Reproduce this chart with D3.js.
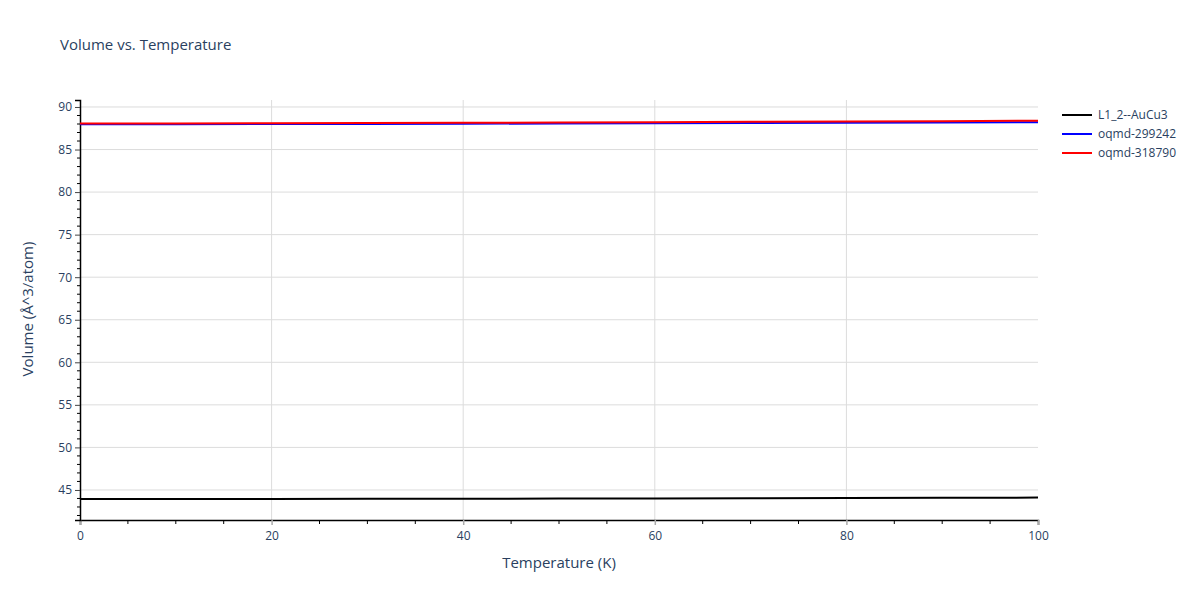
<!DOCTYPE html>
<html>
<head>
<meta charset="utf-8">
<script src="https://cdn.jsdelivr.net/npm/d3@7"></script>
<style>
  body { margin: 0; background: #fff; }
  svg text { font-family: "Open Sans", "Noto Sans", sans-serif; }
</style>
</head>
<body>
<div id="chart"></div>
<script>
// Data
const temperatures = [0, 10, 20, 30, 40, 50, 60, 70, 80, 90, 100];
const seriesNames = ["L1_2--AuCu3", "oqmd-299242", "oqmd-318790"];
const seriesColors = ["black", "blue", "red"];
const volAuCu3 = [43.94, 43.94, 43.95, 43.96, 43.97, 43.99, 44.01, 44.03, 44.05, 44.07, 44.10];
const vol299242 = [87.97, 87.98, 87.99, 88.01, 88.03, 88.06, 88.09, 88.12, 88.15, 88.18, 88.21];
const vol318790 = [88.06, 88.07, 88.09, 88.11, 88.14, 88.17, 88.21, 88.25, 88.29, 88.33, 88.38];
const xTicks = [0, 20, 40, 60, 80, 100];
const yTicks = [45, 50, 55, 60, 65, 70, 75, 80, 85, 90];

const series = [volAuCu3, vol299242, vol318790].map((vals, i) => ({
    name: seriesNames[i],
    color: seriesColors[i],
    points: vals.map((v, j) => ({ t: temperatures[j], v: v }))
}));

const svg = d3.select("#chart").append("svg")
    .attr("width", 1200)
    .attr("height", 600);

const margin = { top: 100, right: 162, bottom: 80, left: 80 };
const width = 1200 - margin.left - margin.right;
const height = 600 - margin.top - margin.bottom;

const chart = svg.append("g")
    .attr("transform", `translate(${margin.left}, ${margin.top})`);

const xScale = d3.scaleLinear().domain([0, 100]).range([0, width]);
const yScale = d3.scaleLinear().domain([41.47, 90.82]).range([height, 0]);

const textColor = "#2a3f5f";
const gridColor = "#dcdcdc";

// Grid lines
chart.append("g")
    .selectAll("line")
    .data(yTicks)
    .enter()
    .append("line")
    .attr("x1", 0).attr("x2", width)
    .attr("y1", d => yScale(d)).attr("y2", d => yScale(d))
    .attr("stroke", gridColor)
    .attr("stroke-width", 1);

chart.append("g")
    .selectAll("line")
    .data(xTicks.filter(d => d > 0 && d < 100))
    .enter()
    .append("line")
    .attr("x1", d => xScale(d)).attr("x2", d => xScale(d))
    .attr("y1", 0).attr("y2", height)
    .attr("stroke", gridColor)
    .attr("stroke-width", 1);

// Minor ticks
const yMinor = d3.range(42, 91, 1).filter(d => d % 5 !== 0);
chart.append("g")
    .selectAll("line")
    .data(yMinor)
    .enter()
    .append("line")
    .attr("x1", -3).attr("x2", 0)
    .attr("y1", d => yScale(d)).attr("y2", d => yScale(d))
    .attr("stroke", "black");

const xMinor = d3.range(5, 100, 5).filter(d => d % 20 !== 0);
chart.append("g")
    .selectAll("line")
    .data(xMinor)
    .enter()
    .append("line")
    .attr("x1", d => xScale(d)).attr("x2", d => xScale(d))
    .attr("y1", height).attr("y2", height + 4)
    .attr("stroke", "black");

// Axes
const xAxis = chart.append("g")
    .attr("transform", `translate(0, ${height})`)
    .call(d3.axisBottom(xScale).tickValues(xTicks).tickSize(5).tickPadding(6));
const yAxis = chart.append("g")
    .call(d3.axisLeft(yScale).tickValues(yTicks).tickSize(5).tickPadding(3));

[xAxis, yAxis].forEach(ax => {
    ax.select(".domain").attr("stroke", "black").attr("stroke-width", 1.5);
    ax.selectAll(".tick line").attr("stroke", "#444");
    ax.selectAll(".tick text")
        .attr("fill", textColor)
        .attr("font-size", "12px")
        .style("font-family", "'Open Sans', sans-serif");
});
xAxis.selectAll(".tick line").attr("stroke", "#aaa").attr("stroke-width", 1.5);

// Lines
const line = d3.line()
    .x(d => xScale(d.t))
    .y(d => yScale(d.v));

chart.append("g")
    .selectAll("path")
    .data(series)
    .enter()
    .append("path")
    .attr("d", d => line(d.points))
    .attr("fill", "none")
    .attr("stroke", d => d.color)
    .attr("stroke-width", 2);

// Title
svg.append("text")
    .attr("x", 60)
    .attr("y", 50)
    .attr("font-size", "15px")
    .attr("fill", textColor)
    .text("Volume vs. Temperature");

// Axis titles
svg.append("text")
    .attr("x", margin.left + width / 2)
    .attr("y", 568)
    .attr("text-anchor", "middle")
    .attr("font-size", "15px")
    .attr("fill", textColor)
    .text("Temperature (K)");

svg.append("text")
    .attr("transform", `translate(33, ${margin.top + height / 2 - 1}) rotate(-90)`)
    .attr("text-anchor", "middle")
    .attr("font-size", "15px")
    .attr("fill", textColor)
    .text("Volume (Å^3/atom)");

// Legend
const legend = svg.append("g")
    .attr("transform", "translate(1062, 115)");

const items = legend.selectAll("g")
    .data(series)
    .enter()
    .append("g")
    .attr("transform", (d, i) => `translate(0, ${i * 19})`);

items.append("line")
    .attr("x1", 0).attr("x2", 30)
    .attr("y1", 0).attr("y2", 0)
    .attr("stroke", d => d.color)
    .attr("stroke-width", 2);

items.append("text")
    .attr("x", 36)
    .attr("y", 4)
    .attr("font-size", "12px")
    .attr("fill", textColor)
    .text(d => d.name);
</script>
</body>
</html>
